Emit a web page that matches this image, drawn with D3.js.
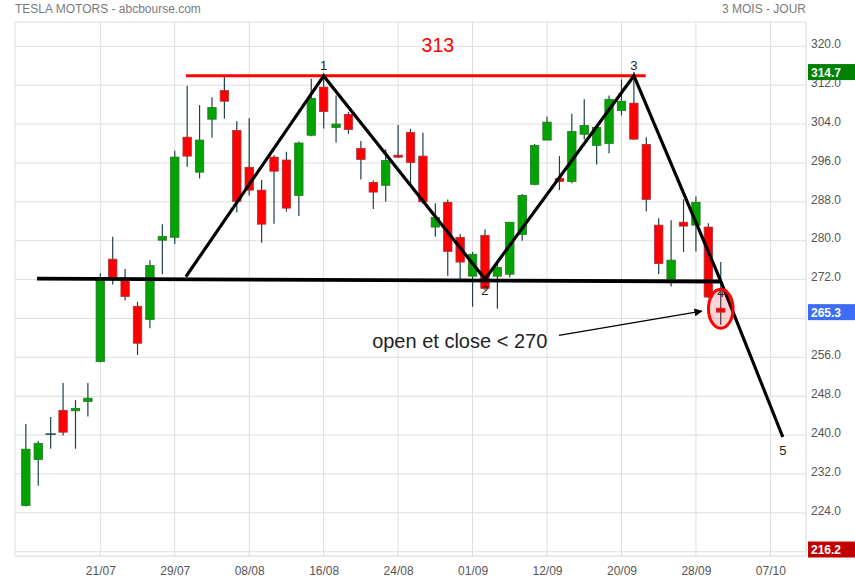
<!DOCTYPE html>
<html><head><meta charset="utf-8">
<script src="https://cdn.jsdelivr.net/npm/d3@7"></script>
<style>
html,body{margin:0;padding:0;background:#fff;}
svg{display:block;font-family:"Liberation Sans",Arial,sans-serif;}
</style></head>
<body>
<svg id="chart" width="855" height="580"></svg>
<script>
// ---- data ----
const dates = ["13/07","14/07","15/07","18/07","19/07","20/07","21/07","22/07","25/07","26/07","27/07","28/07","29/07",
"01/08","02/08","03/08","04/08","05/08","08/08","09/08","10/08","11/08","12/08","15/08","16/08","17/08","18/08","19/08",
"22/08","23/08","24/08","25/08","26/08","29/08","30/08","31/08","01/09","02/09","06/09","07/09","08/09","09/09","12/09",
"13/09","14/09","15/09","16/09","19/09","20/09","21/09","22/09","23/09","26/09","27/09","28/09","29/09","30/09"];
const futureDates = ["03/10","04/10","05/10","07/10","10/10","11/10"];
const openV  = [225.5,235.0,240.2,245.1,245.0,246.9,255.1,276.2,271.8,266.5,263.8,280.1,280.7,301.3,294.1,305.0,310.9,302.7,295.1,290.4,297.2,296.6,289.3,301.7,311.6,303.3,306.0,299.0,292.0,291.4,297.6,302.3,297.4,282.8,287.9,280.7,272.7,281.1,272.7,273.1,281.3,291.6,300.7,292.8,292.2,301.9,299.6,300.0,306.8,308.3,299.8,283.2,272.1,283.8,283.2,282.8,266.1];
const highV  = [242.3,238.8,243.7,250.7,247.2,250.7,273.3,280.8,274.2,267.4,276.0,283.4,298.5,311.9,307.9,309.5,313.7,304.6,305.2,292.5,297.6,298.3,300.4,313.3,314.4,309.9,306.5,300.5,292.4,298.8,303.8,303.0,302.2,287.7,288.5,281.4,277.7,282.3,275.6,283.8,289.6,299.9,305.5,297.4,306.1,309.1,303.5,309.9,313.2,314.7,301.3,284.6,284.2,288.5,289.1,283.6,275.6];
const lowV   = [225.3,229.6,237.2,239.9,237.2,243.8,255.0,271.0,267.7,256.5,262.0,273.1,279.3,295.2,292.8,301.2,305.1,285.8,289.3,279.6,283.5,286.0,285.1,301.5,303.1,300.2,302.0,292.6,286.5,288.0,297.0,291.8,287.6,280.8,272.8,272.1,266.4,269.8,266.0,272.5,280.0,291.4,300.7,290.4,291.8,300.8,295.7,298.0,305.8,300.7,286.0,273.1,270.6,277.7,277.8,268.2,262.7];
const closeV = [237.1,238.3,240.2,240.6,245.5,247.6,271.8,272.3,268.5,258.9,274.9,280.9,297.2,297.4,300.7,307.4,308.7,288.1,290.4,283.4,294.3,286.7,300.1,309.3,306.6,304.0,302.9,296.7,290.0,296.5,297.2,296.1,288.0,284.8,277.8,275.6,277.2,270.2,274.5,283.8,289.3,299.6,304.4,292.2,302.5,303.7,303.3,309.1,308.7,300.9,288.5,275.3,276.0,283.0,287.9,268.4,265.3];
const tickLabels = ["21/07","29/07","08/08","16/08","24/08","01/09","12/09","20/09","28/09","07/10"];
const gridTicks = [216,224,232,240,248,256,264,272,280,288,296,304,312,320];
const priceLabels = [224,232,240,248,256,272,280,288,296,304,312,320];
const markerValues = [314.7,265.3,216.2];
const markerColors = ["#008000","#3d6df5","#c00000"];
// pattern (index, price)
const patternIdx   = [12.9, 24, 37, 49, 56, 61];
const patternPrice = [272.6, 313.9, 272.1, 313.95, 271.7, 239.6];
const patternNames = ["", "1", "2", "3", "4", "5"];
const labelPrice   = [0, 315.1, 268.8, 315.1, 268.4, 235.9];
const necklineIdx = [0.9, 56], necklinePrice = [272.2, 271.6];
const resistIdx = [12.9, 49.95], resistPrice = 313.95, resistLabel = "313";
const noteText = "open et close < 270";

// ---- layout ----
const svg = d3.select("#chart");
const L = 15, R = 806, T = 22, B = 556;
const allDates = dates.concat(futureDates);
const x = d3.scaleLinear().domain([-0.874, 62.87]).range([L, R]);
const y = d3.scaleLinear().domain([215.12, 325.0]).range([B, T]);
const bw = 8.4;

// title
svg.append("text").attr("x", 15).attr("y", 13).attr("font-size", 12).attr("fill", "#7a7a7a").text("TESLA MOTORS - abcbourse.com");
svg.append("text").attr("x", 806).attr("y", 13).attr("font-size", 12).attr("fill", "#7a7a7a").attr("text-anchor", "end").text("3 MOIS - JOUR");

// grid
const grid = svg.append("g");
grid.selectAll(".hg").data(gridTicks).join("line")
  .attr("x1", L).attr("x2", R).attr("y1", d => y(d)).attr("y2", d => y(d))
  .attr("stroke", "#dedede").attr("stroke-width", 1);
const tickIdx = tickLabels.map(t => allDates.indexOf(t));
grid.selectAll(".vg").data(tickIdx).join("line")
  .attr("x1", d => x(d)).attr("x2", d => x(d)).attr("y1", T).attr("y2", B)
  .attr("stroke", "#dedede").attr("stroke-width", 1);
// frame
svg.append("line").attr("x1", L).attr("x2", R).attr("y1", T).attr("y2", T).attr("stroke", "#dedede");
svg.append("line").attr("x1", L).attr("x2", L).attr("y1", T).attr("y2", B).attr("stroke", "#dedede");
svg.append("line").attr("x1", R).attr("x2", R).attr("y1", T).attr("y2", B).attr("stroke", "#d6d6d6");
svg.append("line").attr("x1", L).attr("x2", R).attr("y1", B).attr("y2", B).attr("stroke", "#d6d6d6");

// axes labels
const yAxis = d3.axisRight(y).tickValues(priceLabels).tickFormat(d3.format(".1f")).tickSize(0).tickPadding(5);
const ya = svg.append("g").attr("transform", `translate(${R},0)`).call(yAxis);
ya.select(".domain").remove();
ya.selectAll("text").attr("font-size", 12).attr("fill", "#555").attr("font-family", "Liberation Sans, Arial, sans-serif").attr("dy", "0.1em");

const xAxis = d3.axisBottom(x).tickValues(tickIdx).tickFormat(d => allDates[d]).tickSize(0).tickPadding(8);
const xa = svg.append("g").attr("transform", `translate(0,${B})`).call(xAxis);
xa.select(".domain").remove();
xa.selectAll("text").attr("font-size", 12).attr("fill", "#555").attr("font-family", "Liberation Sans, Arial, sans-serif").attr("dy", "0.9em");

// candles
const candles = dates.map((d, i) => ({i, o: openV[i], h: highV[i], l: lowV[i], c: closeV[i]}));
const cg = svg.append("g");
cg.selectAll(".wick").data(candles).join("line")
  .attr("x1", d => x(d.i)).attr("x2", d => x(d.i))
  .attr("y1", d => y(d.h)).attr("y2", d => y(d.l))
  .attr("stroke", "#1d4050").attr("stroke-width", 1.2);
cg.selectAll(".body").data(candles.filter(d => d.o !== d.c)).join("rect")
  .attr("x", d => x(d.i) - bw / 2)
  .attr("y", d => y(Math.max(d.o, d.c)))
  .attr("width", bw)
  .attr("height", d => Math.max(2, Math.abs(y(d.o) - y(d.c))))
  .attr("fill", d => d.c > d.o ? "#00a300" : "#ff0000")
  .attr("stroke", d => d.c > d.o ? "#237a23" : "#a8323a")
  .attr("stroke-width", 0.8);
cg.selectAll(".doji").data(candles.filter(d => d.o === d.c)).join("line")
  .attr("x1", d => x(d.i) - bw / 2 - 1).attr("x2", d => x(d.i) + bw / 2 + 1)
  .attr("y1", d => y(d.o)).attr("y2", d => y(d.o))
  .attr("stroke", "#1d4050").attr("stroke-width", 1.5);

// annotations
const ann = svg.append("g");
ann.append("line")
  .attr("x1", x(resistIdx[0])).attr("x2", x(resistIdx[1]))
  .attr("y1", y(resistPrice)).attr("y2", y(resistPrice))
  .attr("stroke", "#ff0000").attr("stroke-width", 3);
ann.append("text").attr("x", x(33.2)).attr("y", y(318.9)).attr("text-anchor", "middle")
  .attr("font-size", 19.5).attr("fill", "#ff0000").text(resistLabel);

ann.append("line")
  .attr("x1", x(necklineIdx[0])).attr("x2", x(necklineIdx[1]))
  .attr("y1", y(necklinePrice[0])).attr("y2", y(necklinePrice[1]))
  .attr("stroke", "#000").attr("stroke-width", 3.8);

const pts = patternIdx.map((v, i) => [x(v), y(patternPrice[i])]);
ann.append("path").attr("d", d3.line()(pts)).attr("fill", "none")
  .attr("stroke", "#000").attr("stroke-width", 3.2).attr("stroke-linejoin", "miter");

ann.selectAll(".pl").data(patternNames.map((n, i) => ({n, i})).filter(d => d.n)).join("text")
  .attr("x", d => x(patternIdx[d.i])).attr("y", d => y(labelPrice[d.i]))
  .attr("text-anchor", "middle").attr("font-size", 13).attr("fill", "#222").text(d => d.n);

// ellipse around last candle
ann.append("ellipse").attr("cx", x(56)).attr("cy", y(266.0)).attr("rx", 12.3).attr("ry", 19.5)
  .attr("fill", "rgba(255,0,0,0.17)").attr("stroke", "#ff0000").attr("stroke-width", 3);

// arrow + text
svg.append("defs").append("marker").attr("id", "arr").attr("viewBox", "0 0 10 10")
  .attr("refX", 9).attr("refY", 5).attr("markerWidth", 8).attr("markerHeight", 8)
  .attr("markerUnits", "userSpaceOnUse").attr("orient", "auto")
  .append("path").attr("d", "M0,0 L10,5 L0,10 z").attr("fill", "#000");
ann.append("line").attr("x1", x(42.96)).attr("y1", y(260.5)).attr("x2", x(54.47)).attr("y2", y(265.5))
  .attr("stroke", "#000").attr("stroke-width", 1.3).attr("marker-end", "url(#arr)");
ann.append("text").attr("x", x(42.02)).attr("y", y(257.9)).attr("text-anchor", "end")
  .attr("font-size", 20).attr("fill", "#222").text(noteText);

// right-side value markers
const mk = svg.append("g");
markerValues.forEach((v, i) => {
  const cy = Math.min(y(v), B - 6.5);
  mk.append("rect").attr("x", 808).attr("y", cy - 8).attr("width", 47).attr("height", 16).attr("fill", markerColors[i]);
  mk.append("text").attr("x", 811).attr("y", cy + 4.5).attr("font-size", 12).attr("font-weight", "bold")
    .attr("fill", "#fff").text(v.toFixed(1));
});
</script>
</body></html>
